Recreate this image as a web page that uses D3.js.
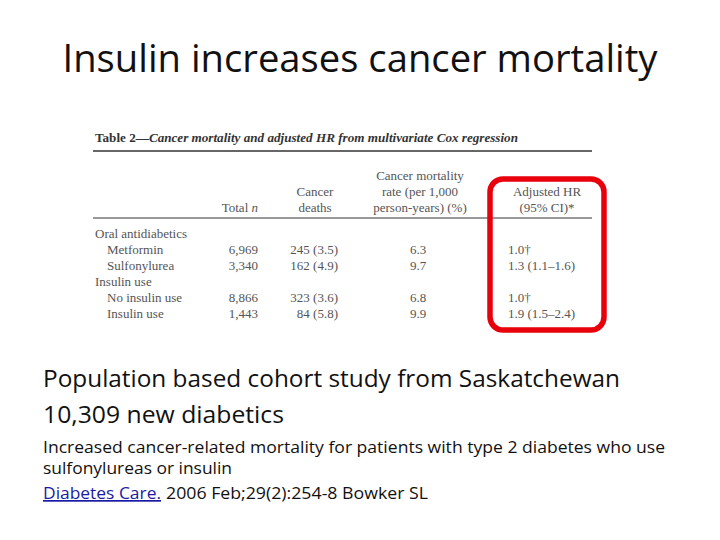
<!DOCTYPE html>
<html>
<head>
<meta charset="utf-8">
<script src="https://cdn.jsdelivr.net/npm/d3@7"></script>
<style>
  body { margin: 0; background: #fff; }
  svg { display: block; }
</style>
</head>
<body>
<div id="slide"></div>
<script>
// Table data
const rowLabels = ["Oral antidiabetics", "Metformin", "Sulfonylurea", "Insulin use", "No insulin use", "Insulin use"];
const rowIsGroup = [true, false, false, true, false, false];
const totalN = ["", "6,969", "3,340", "", "8,866", "1,443"];
const cancerDeaths = ["", "245 (3.5)", "162 (4.9)", "", "323 (3.6)", "84 (5.8)"];
const mortalityRate = ["", "6.3", "9.7", "", "6.8", "9.9"];
const adjustedHR = ["", "1.0\u2020", "1.3 (1.1\u20131.6)", "", "1.0\u2020", "1.9 (1.5\u20132.4)"];

const headers = [
  { lines: ["Total n"], x: 258, anchor: "end" },
  { lines: ["Cancer", "deaths"], x: 315, anchor: "middle" },
  { lines: ["Cancer mortality", "rate (per 1,000", "person-years) (%)"], x: 420, anchor: "middle" },
  { lines: ["Adjusted HR", "(95% CI)*"], x: 547, anchor: "middle" }
];

const width = 720, height = 540;
const svg = d3.select("#slide").append("svg")
    .attr("width", width)
    .attr("height", height);

// Slide title
svg.append("text")
    .attr("x", 360)
    .attr("y", 72)
    .attr("text-anchor", "middle")
    .attr("font-family", "Open Sans, sans-serif")
    .attr("font-size", 39)
    .attr("fill", "#111")
    .attr("textLength", 595)
    .attr("lengthAdjust", "spacingAndGlyphs")
    .text("Insulin increases cancer mortality");

// Table
const tableFont = "Liberation Serif, serif";
const tcol = "#555";

const tt = svg.append("text")
    .attr("x", 95)
    .attr("y", 142)
    .attr("font-family", tableFont)
    .attr("font-size", 13.5)
    .attr("font-weight", "bold")
    .attr("fill", "#333")
    .attr("textLength", 423)
    .attr("lengthAdjust", "spacingAndGlyphs");
tt.append("tspan").text("Table 2\u2014");
tt.append("tspan").attr("font-style", "italic").text("Cancer mortality and adjusted HR from multivariate Cox regression");

svg.append("line")
    .attr("x1", 93).attr("x2", 592)
    .attr("y1", 151).attr("y2", 151)
    .attr("stroke", "#333").attr("stroke-width", 1.5);
svg.append("line")
    .attr("x1", 93).attr("x2", 592)
    .attr("y1", 218).attr("y2", 218)
    .attr("stroke", "#333").attr("stroke-width", 1);

// header text, bottom aligned at y=212
headers.forEach(h => {
  const n = h.lines.length;
  h.lines.forEach((ln, i) => {
    const t = svg.append("text")
        .attr("x", h.x)
        .attr("y", 212 - (n - 1 - i) * 16)
        .attr("text-anchor", h.anchor)
        .attr("font-family", tableFont)
        .attr("font-size", 13)
        .attr("fill", tcol);
    if (ln === "Total n") {
      t.append("tspan").text("Total ");
      t.append("tspan").attr("font-style", "italic").text("n");
    } else {
      t.text(ln);
    }
  });
});

// row scale
const y = d3.scalePoint()
    .domain(d3.range(rowLabels.length))
    .range([238, 318]);

const rows = svg.append("g")
    .attr("font-family", tableFont)
    .attr("font-size", 13)
    .attr("fill", tcol);

rows.selectAll(".lab")
    .data(rowLabels)
    .join("text")
    .attr("x", (d, i) => rowIsGroup[i] ? 95 : 107)
    .attr("y", (d, i) => y(i))
    .text(d => d);

rows.selectAll(".tot")
    .data(totalN)
    .join("text")
    .attr("x", 258)
    .attr("y", (d, i) => y(i))
    .attr("text-anchor", "end")
    .text(d => d);

rows.selectAll(".dea")
    .data(cancerDeaths)
    .join("text")
    .attr("x", 338)
    .attr("y", (d, i) => y(i))
    .attr("text-anchor", "end")
    .text(d => d);

rows.selectAll(".rate")
    .data(mortalityRate)
    .join("text")
    .attr("x", 418)
    .attr("y", (d, i) => y(i))
    .attr("text-anchor", "middle")
    .text(d => d);

rows.selectAll(".hr")
    .data(adjustedHR)
    .join("text")
    .attr("x", 508)
    .attr("y", (d, i) => y(i))
    .text(d => d);

// red highlight box
svg.append("rect")
    .attr("x", 490).attr("y", 179)
    .attr("width", 114).attr("height", 151)
    .attr("rx", 13).attr("ry", 13)
    .attr("fill", "none")
    .attr("stroke", "#e8000b")
    .attr("stroke-width", 5.5);

// Body text
const bodyFont = "Open Sans, sans-serif";
const bodyLines = [
  { text: "Population based cohort study from Saskatchewan", y: 387, size: 24, len: 577 },
  { text: "10,309 new diabetics", y: 423, size: 24, len: 241 },
  { text: "Increased cancer-related mortality for patients with type 2 diabetes who use", y: 453, size: 17, len: 622 },
  { text: "sulfonylureas or insulin", y: 474, size: 17, len: 189 }
];
bodyLines.forEach(b => {
  svg.append("text")
      .attr("x", 43)
      .attr("y", b.y)
      .attr("font-family", bodyFont)
      .attr("font-size", b.size)
      .attr("fill", "#111")
      .attr("textLength", b.len)
      .attr("lengthAdjust", "spacingAndGlyphs")
      .text(b.text);
});

svg.append("text")
    .attr("x", 43)
    .attr("y", 499)
    .attr("font-family", bodyFont)
    .attr("font-size", 17)
    .attr("fill", "#1a1aa6")
    .attr("text-decoration", "underline")
    .attr("textLength", 118)
    .attr("lengthAdjust", "spacingAndGlyphs")
    .text("Diabetes Care.");
svg.append("text")
    .attr("x", 166)
    .attr("y", 499)
    .attr("font-family", bodyFont)
    .attr("font-size", 17)
    .attr("fill", "#111")
    .attr("textLength", 262)
    .attr("lengthAdjust", "spacingAndGlyphs")
    .text("2006 Feb;29(2):254-8 Bowker SL");
</script>
</body>
</html>
